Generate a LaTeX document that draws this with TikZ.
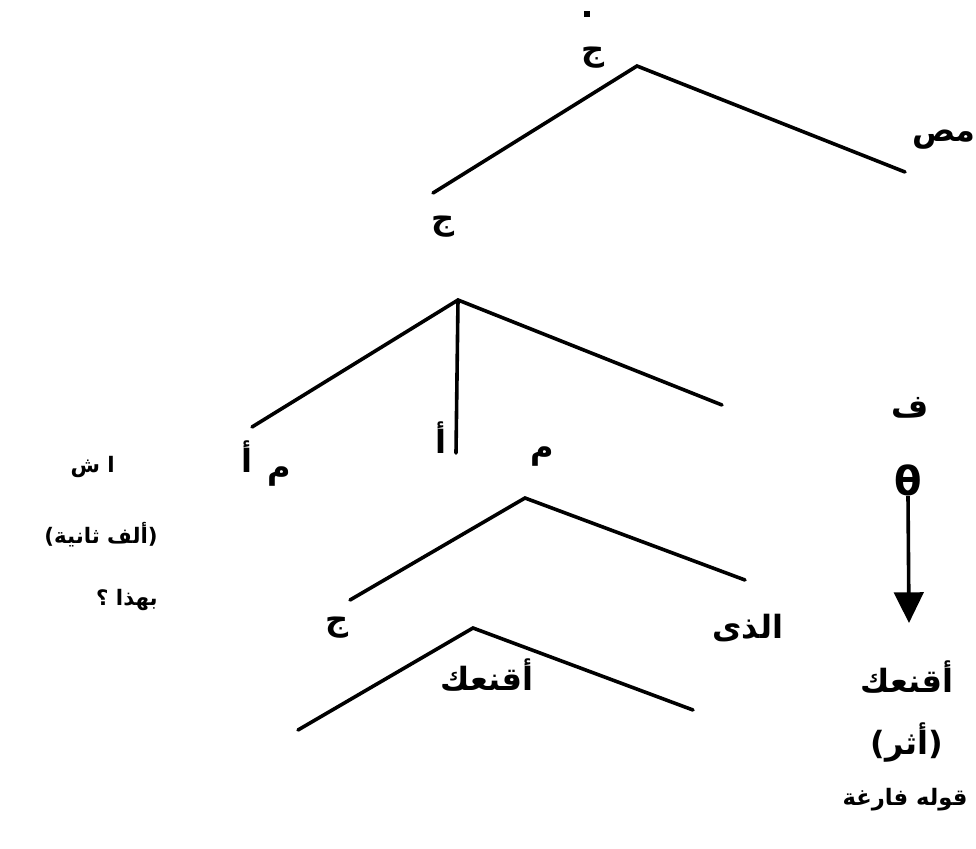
\documentclass[tikz,border=0pt]{standalone}
\usepackage{fontspec}
\newfontfamily\ar[Script=Arabic]{DejaVu Sans}
\TeXXeTstate=1
\usetikzlibrary{arrows.meta}
\begin{document}
\begin{tikzpicture}[x=0.75pt,y=-0.75pt,
  br/.style={line width=2.7pt, line cap=round},
  lbl/.style={font=\ar\bfseries\fontsize{24}{28}\selectfont, inner sep=0pt},
  sml/.style={font=\ar\bfseries\fontsize{17}{20}\selectfont, inner sep=0pt},
  lft/.style={font=\ar\bfseries\fontsize{16}{19}\selectfont, inner sep=0pt}]
\useasboundingbox (0,0) rectangle (976,849);
% stray mark at the top
\node[fill=black, inner sep=0pt, minimum width=5pt, minimum height=4pt] (dot) at (587,14) {};
% top tree
\node[lbl] (j1) at (593,58) {\beginR ج\endR};
\coordinate (a1) at (637,66);
\coordinate (a1l) at (433,193);
\coordinate (a1r) at (905,172);
\draw[br] (a1l) -- (a1) -- (a1r);
\node[lbl, anchor=west] (mas) at (912,140) {\beginR مص\endR};
\node[lbl] (j2) at (443,227) {\beginR ج\endR};
% second tree
\coordinate (a2) at (458,300);
\coordinate (a2l) at (252,427);
\coordinate (a2m) at (456,453);
\coordinate (a2r) at (722,405);
\draw[br] (a2l) -- (a2) -- (a2r);
\draw[br] (a2) -- (a2m);
\node[lbl] (alefL) at (247,457) {\beginR أ\endR};
\node[lbl] (mimL) at (279,477) {\beginR م\endR};
\node[lbl] (alefM) at (441,438) {\beginR أ\endR};
\node[lbl] (mimR) at (542,457) {\beginR م\endR};
% third tree
\coordinate (a3) at (525,498);
\coordinate (a3l) at (350,600);
\coordinate (a3r) at (745,580);
\draw[br] (a3l) -- (a3) -- (a3r);
\node[lbl] (j3) at (337,628) {\beginR ج\endR};
\node[lbl] (alladhi) at (748,628) {\beginR الذى\endR};
% fourth tree
\coordinate (a4) at (473,628);
\coordinate (a4l) at (298,730);
\coordinate (a4r) at (693,710);
\draw[br] (a4l) -- (a4) -- (a4r);
\node[lbl] (aqnaak) at (487,675) {\beginR أقنعك\endR};
% right column
\node[lbl] (fa) at (910,408) {\beginR ف\endR};
\node[font=\fontsize{30}{32}\selectfont\bfseries\ar, inner sep=0pt] (theta) at (908,480) {θ};
\coordinate (tip) at (909,623);
\draw[line width=2.7pt, -{Triangle[width=22pt,length=23pt]}] (theta.south) -- (tip);
\node[lbl] (aqnaakR) at (907,677) {\beginR أقنعك\endR};
\node[lbl] (athar) at (907,743) {\beginR (أثر)\endR};
\node[sml] (qawluh) at (905,800) {\beginR قوله فارغة\endR};
% left column
\node[lft, anchor=east] (ash) at (115,467) {\beginR ا ش\endR};
\node[lft, anchor=east] (alif) at (158,535) {\beginR (ألف ثانية)\endR};
\node[lft, anchor=east] (bihadha) at (158,600) {\beginR بهذا ؟\endR};
\end{tikzpicture}
\end{document}
